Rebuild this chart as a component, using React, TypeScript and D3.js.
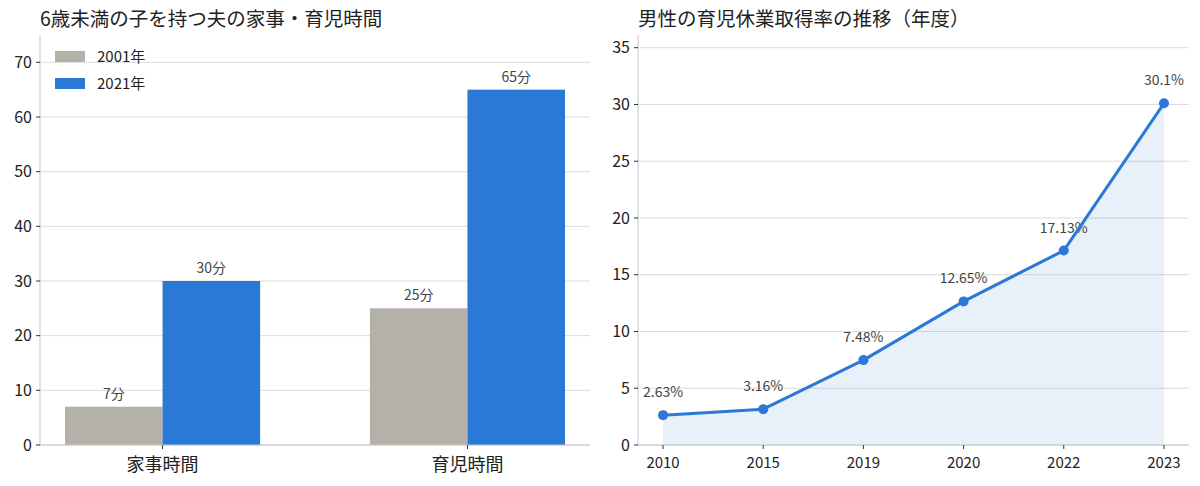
import React from "react";
import * as d3 from "d3";

const barCategories = ["家事時間", "育児時間"];
const barSeriesNames = ["2001年", "2021年"];
const values2001 = [7, 25];
const values2021 = [30, 65];
const barYTicks = [0, 10, 20, 30, 40, 50, 60, 70];

const years = ["2010", "2015", "2019", "2020", "2022", "2023"];
const rates = [2.63, 3.16, 7.48, 12.65, 17.13, 30.1];
const rateLabels = ["2.63%", "3.16%", "7.48%", "12.65%", "17.13%", "30.1%"];
const lineYTicks = [0, 5, 10, 15, 20, 25, 30, 35];

const GRAY = "#b3b1a8";
const BLUE = "#2a79d6";
const FONT = "'Noto Sans CJK JP', 'Noto Sans', sans-serif";

export default function App() {
  const W = 1200, H = 486;
  const top = 35, bottom = 445;

  // Left chart
  const lx0 = 40, lx1 = 590;
  const lx = d3.scaleLinear().domain([-0.402, 1.402]).range([lx0, lx1]);
  const ly = d3.scaleLinear().domain([0, 75]).range([bottom, top]);
  const bw = 0.32;
  const series = [values2001, values2021];
  const colors = [GRAY, BLUE];

  // Right chart
  const rx0 = 638, rx1 = 1189;
  const rx = d3.scaleLinear().domain([-0.25, years.length - 0.75]).range([rx0, rx1]);
  const ry = d3.scaleLinear().domain([0, 36.12]).range([bottom, top]);
  const pts: [number, number][] = rates.map((v, i) => [i, v]);
  const line = d3.line<[number, number]>().x(d => rx(d[0])).y(d => ry(d[1]));
  const area = d3.area<[number, number]>().x(d => rx(d[0])).y0(ry(0)).y1(d => ry(d[1]));

  return (
    <svg width={W} height={H} style={{ position: "absolute", left: 0, top: 0, background: "#fff" }} fontFamily={FONT}>
      {/* Left title */}
      <text x={lx0} y={26} fontSize={19.5} fill="#222">6歳未満の子を持つ夫の家事・育児時間</text>
      {/* grid */}
      {barYTicks.map(t => (
        <line key={t} x1={lx0} x2={lx1} y1={ly(t)} y2={ly(t)} stroke="#dcdcdc" strokeWidth={1} />
      ))}
      {/* bars */}
      {barCategories.map((c, ci) =>
        series.map((s, si) => {
          const x = lx(ci + (si - 1) * bw);
          const w = lx(bw) - lx(0);
          return (
            <rect key={c + si} x={x} y={ly(s[ci])} width={w} height={ly(0) - ly(s[ci])} fill={colors[si]} />
          );
        })
      )}
      {barCategories.map((c, ci) =>
        series.map((s, si) => (
          <text key={"l" + c + si} x={lx(ci + (si - 0.5) * bw)} y={ly(s[ci]) - 8} fontSize={14} fill="#444" textAnchor="middle">
            {s[ci]}分
          </text>
        ))
      )}
      {/* spines */}
      <line x1={lx0} x2={lx0} y1={top} y2={bottom} stroke="#c8c8c8" />
      <line x1={lx0} x2={lx1} y1={bottom} y2={bottom} stroke="#c8c8c8" />
      {barYTicks.map(t => (
        <g key={"yt" + t}>
          <line x1={lx0 - 4} x2={lx0} y1={ly(t)} y2={ly(t)} stroke="#333" />
          <text x={lx0 - 8} y={ly(t)} dy="0.35em" fontSize={16} fill="#222" textAnchor="end">{t}</text>
        </g>
      ))}
      {barCategories.map((c, ci) => (
        <g key={"xt" + c}>
          <line x1={lx(ci)} x2={lx(ci)} y1={bottom} y2={bottom + 4} stroke="#333" />
          <text x={lx(ci)} y={bottom + 26} fontSize={18} fill="#222" textAnchor="middle">{c}</text>
        </g>
      ))}
      {/* legend */}
      {barSeriesNames.map((n, i) => (
        <g key={"lg" + n}>
          <rect x={55} y={51 + i * 27} width={30} height={11} fill={colors[i]} />
          <text x={97} y={56.5 + i * 27} dy="0.35em" fontSize={15} fill="#222">{n}</text>
        </g>
      ))}

      {/* Right title */}
      <text x={rx0} y={26} fontSize={19.5} fill="#222">男性の育児休業取得率の推移（年度）</text>
      {lineYTicks.map(t => (
        <line key={"rg" + t} x1={rx0} x2={rx1} y1={ry(t)} y2={ry(t)} stroke="#dcdcdc" strokeWidth={1} />
      ))}
      <path d={area(pts) || ""} fill={BLUE} fillOpacity={0.11} />
      {pts.map((p, i) => (
        <text key={"rl" + i} x={rx(p[0])} y={ry(p[1]) - 18} fontSize={14} fill="#444" textAnchor="middle">
          {rateLabels[i]}
        </text>
      ))}
      <path d={line(pts) || ""} fill="none" stroke={BLUE} strokeWidth={3} strokeLinejoin="round" />
      {pts.map((p, i) => (
        <circle key={"pt" + i} cx={rx(p[0])} cy={ry(p[1])} r={5} fill={BLUE} />
      ))}
      <line x1={rx0} x2={rx0} y1={top} y2={bottom} stroke="#c8c8c8" />
      <line x1={rx0} x2={rx1} y1={bottom} y2={bottom} stroke="#c8c8c8" />
      {lineYTicks.map(t => (
        <g key={"ryt" + t}>
          <line x1={rx0 - 4} x2={rx0} y1={ry(t)} y2={ry(t)} stroke="#333" />
          <text x={rx0 - 8} y={ry(t)} dy="0.35em" fontSize={16} fill="#222" textAnchor="end">{t}</text>
        </g>
      ))}
      {years.map((y, i) => (
        <g key={"rxt" + y}>
          <line x1={rx(i)} x2={rx(i)} y1={bottom} y2={bottom + 4} stroke="#333" />
          <text x={rx(i)} y={bottom + 23} fontSize={15} fill="#222" textAnchor="middle">{y}</text>
        </g>
      ))}
    </svg>
  );
}
